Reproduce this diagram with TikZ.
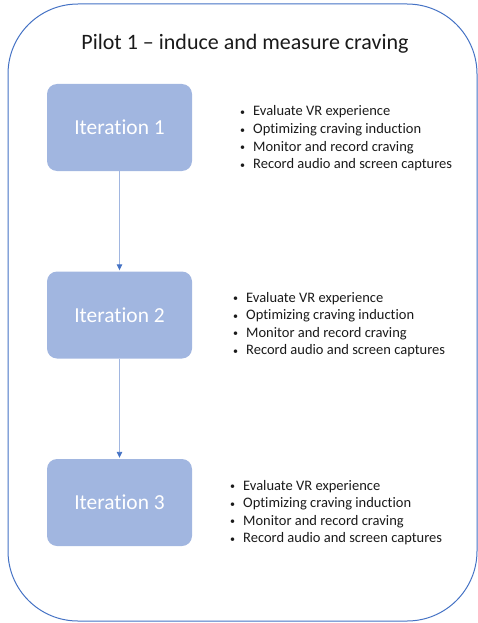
\documentclass[tikz,border=0pt]{standalone}
\usepackage{fontspec}
\setmainfont[Ligatures={TeX,NoCommon}]{Carlito}
\usetikzlibrary{arrows.meta}
\definecolor{boxblue}{HTML}{A1B6E0}
\definecolor{lineblue}{HTML}{4472C4}
\definecolor{txt}{HTML}{1A1A1A}
\tikzset{
  itbox/.style={fill=boxblue, draw=none, rounded corners=10pt, minimum width=145pt, minimum height=87pt, text=white, font=\fontsize{21.4}{25}\selectfont, inner sep=0pt},
  flow/.style={draw=boxblue, line width=0.9pt, shorten >=1pt, -{Triangle[length=6pt,width=5.5pt,color=lineblue,fill=lineblue]}},
  bitem/.style={anchor=base west, inner sep=0pt, text=txt, font=\fontsize{14.5}{17}\selectfont},
  frame/.style={draw=lineblue, line width=1pt, rounded corners=70pt}
}
\begin{document}
\begin{tikzpicture}[x=1pt,y=-1pt]
\useasboundingbox (0,0) rectangle (477,623);
\draw[frame] (8,4) rectangle (477,621);
\node[anchor=base, inner sep=0pt, text=txt, font=\fontsize{22}{26}\selectfont] (title) at (245,50) {Pilot 1 – induce and measure craving};
\node[itbox] (it1) at (119.5,127.5) {Iteration 1};
\node[itbox] (it2) at (119.5,315) {Iteration 2};
\node[itbox] (it3) at (119.5,502.5) {Iteration 3};
\draw[flow] (it1.south) -- (it2.north);
\draw[flow] (it2.south) -- (it3.north);
\foreach \bx/\by/\g in {240/116/a, 233/302/b, 230/490/c}{
  \foreach \t [count=\i] in {Evaluate VR experience, Optimizing craving induction, Monitor and record craving, Record audio and screen captures}{
    \node[bitem] (l\g\i) at (\bx,{\by+17.6*(\i-1)}) {\makebox[13pt][l]{\raisebox{0.5pt}{\fontsize{10}{12}\selectfont •}}\t};
  }
}
\end{tikzpicture}
\end{document}
